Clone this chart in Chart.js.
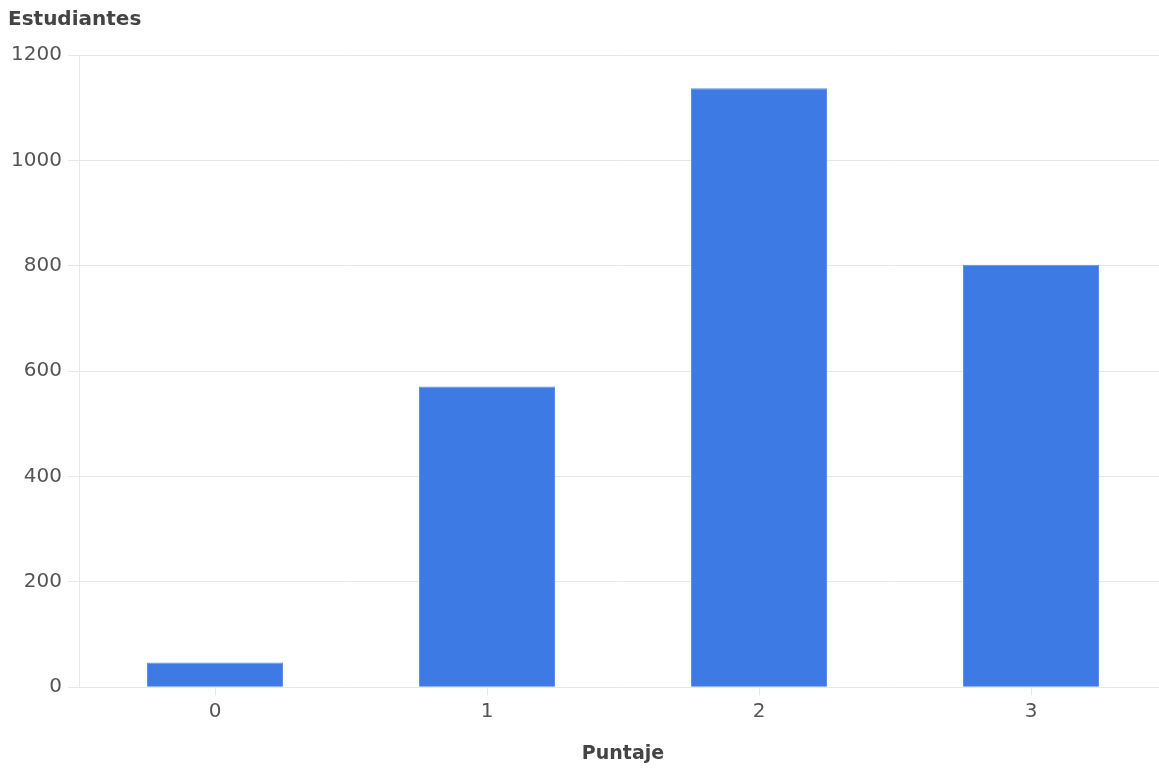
<!DOCTYPE html>
<html>
<head>
<meta charset="utf-8">
<script src="https://cdn.jsdelivr.net/npm/chart.js@4"></script>
<style>
  html, body { margin: 0; background: #fff; overflow: hidden; }
  #chart { display: block; }
</style>
</head>
<body>
<canvas id="chart" width="1167" height="772"></canvas>
<script>
const categories = ["0", "1", "2", "3"];
const students = [47, 571, 1137, 802];
const yTitle = "Estudiantes";
const xTitle = "Puntaje";

const FONT = "'DejaVu Sans', sans-serif";
const GRID = "#e8e8e8";

new Chart(document.getElementById("chart"), {
  type: "bar",
  data: {
    labels: categories,
    datasets: [{
      data: students,
      backgroundColor: "#3e7ae3",
      borderColor: "#5d8fe8",
      borderWidth: 1,
      barPercentage: 0.5,
      categoryPercentage: 1
    }]
  },
  options: {
    responsive: false,
    animation: false,
    layout: { padding: { left: 8, right: 0, top: 8, bottom: 3 } },
    plugins: {
      legend: { display: false },
      tooltip: { enabled: false },
      title: {
        display: true,
        text: yTitle,
        align: "start",
        color: "#444",
        font: { family: FONT, size: 20, weight: "bold" },
        padding: { top: 0, bottom: 23 }
      }
    },
    scales: {
      x: {
        grid: { drawOnChartArea: false, drawTicks: true, tickLength: 8, color: GRID, offset: false },
        border: { color: GRID },
        ticks: { color: "#555", font: { family: FONT, size: 20 }, padding: 5 },
        title: {
          display: true,
          text: xTitle,
          color: "#444",
          font: { family: FONT, size: 19, weight: "bold" },
          padding: { top: 13 }
        }
      },
      y: {
        min: 0,
        max: 1200,
        afterFit: (axis) => { axis.width = 71; },
        ticks: {
          stepSize: 200,
          color: "#555",
          font: { family: FONT, size: 20 },
          padding: 6,
          callback: (v) => String(v)
        },
        grid: { color: GRID, tickLength: 11 },
        border: { color: GRID }
      }
    }
  }
});
</script>
</body>
</html>
